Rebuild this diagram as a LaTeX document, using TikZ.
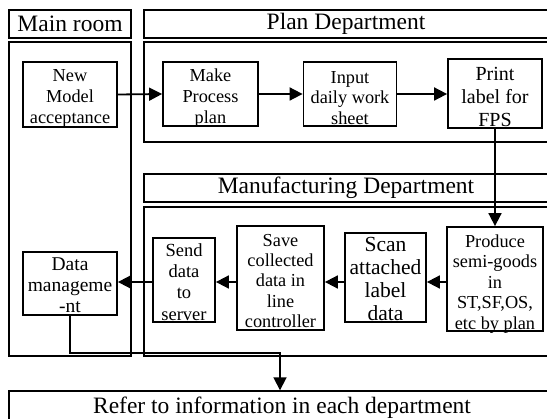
\documentclass[tikz,border=0pt]{standalone}
\usepackage{fontspec}
\setmainfont{Liberation Serif}
\usetikzlibrary{arrows.meta}
\begin{document}
\begin{tikzpicture}[x=1pt,y=-1pt,
  cont/.style={draw, line width=1.4pt},
  hdr/.style={draw, line width=1.4pt, inner sep=0pt, font=\fontsize{23.5}{26}\selectfont},
  proc/.style={draw, line width=1.8pt, inner sep=0pt},
  lab/.style={align=center, inner sep=0pt, font=\fontsize{18.3}{20.7}\selectfont},
  conn/.style={line width=1.8pt, -{Triangle[length=13pt,width=13pt]}}]
\useasboundingbox (0,0) rectangle (547,419);
\clip (0,0) rectangle (547,419);
% containers
\node[hdr, minimum width=122, minimum height=28] (mainh) at (70,24) {Main room};
\node[hdr, minimum width=404, minimum height=28] (planh) at (346,24) {Plan Department};
\node[hdr, minimum width=404, minimum height=28] (manh) at (346,188) {Manufacturing Department};
\node[cont, minimum width=122, minimum height=314, inner sep=0pt] (mainb) at (70,199) {};
\node[cont, minimum width=404, minimum height=100, inner sep=0pt] (planb) at (346,92) {};
\node[cont, minimum width=404, minimum height=149, inner sep=0pt] (manb) at (346,281.5) {};
\node[hdr, minimum width=546, minimum height=34] (bar) at (282,408) {Refer to information in each department};
% process boxes
\node[proc, minimum width=94, minimum height=65,
  label={[lab, yshift=-4pt]center:New\\Model\\acceptance}] (nma) at (70,94.5) {};
\node[proc, minimum width=95, minimum height=64,
  label={[lab, yshift=-4pt]center:Make\\Process\\plan}] (make) at (210.5,94) {};
\node[proc, minimum width=93, minimum height=64,
  label={[lab, yshift=-4pt]center:Input\\daily work\\sheet}] (input) at (350,94) {};
\node[proc, minimum width=94, minimum height=69,
  label={[lab, font=\fontsize{20}{23}\selectfont, yshift=-3pt]center:Print\\label for\\FPS}] (print) at (495,93.5) {};
\node[proc, minimum width=96, minimum height=104,
  label={[lab, font=\fontsize{18.3}{20.6}\selectfont, yshift=-5pt]center:Produce\\semi-goods\\in\\ST,SF,OS,\\etc by plan}] (produce) at (495,279) {};
\node[proc, minimum width=81, minimum height=89,
  label={[lab, font=\fontsize{21.5}{23}\selectfont, yshift=-1pt]center:Scan\\attached\\label\\data}] (scan) at (385.5,277.5) {};
\node[proc, minimum width=87, minimum height=104,
  label={[lab, font=\fontsize{18.3}{20.4}\selectfont, yshift=-3pt]center:Save\\collected\\data in\\line\\controller}] (save) at (280.5,278) {};
\node[proc, minimum width=62, minimum height=84,
  label={[lab, font=\fontsize{18.5}{21.2}\selectfont, yshift=-2pt]center:Send\\data\\to\\server}] (send) at (184,280) {};
\node[proc, minimum width=94, minimum height=63,
  label={[lab, font=\fontsize{19.5}{21}\selectfont, yshift=-2pt]center:Data\\manageme\\-nt}] (dm) at (70,283.5) {};
% connectors
\coordinate (row) at (0,282);
\coordinate (turn) at (280,353);
\draw[conn] (nma.east) -- (make.west);
\draw[conn] (make.east) -- (input.west);
\draw[conn] (input.east) -- (input.east -| print.west);
\draw[conn] (print.south) -- (produce.north);
\draw[conn] (produce.west |- row) -- (scan.east |- row);
\draw[conn] (scan.west |- row) -- (save.east |- row);
\draw[conn] (save.west |- row) -- (send.east |- row);
\draw[conn] (send.west |- row) -- (dm.east |- row);
\draw[conn] (dm.south) |- (turn) -- (turn |- bar.north);
\end{tikzpicture}
\end{document}
